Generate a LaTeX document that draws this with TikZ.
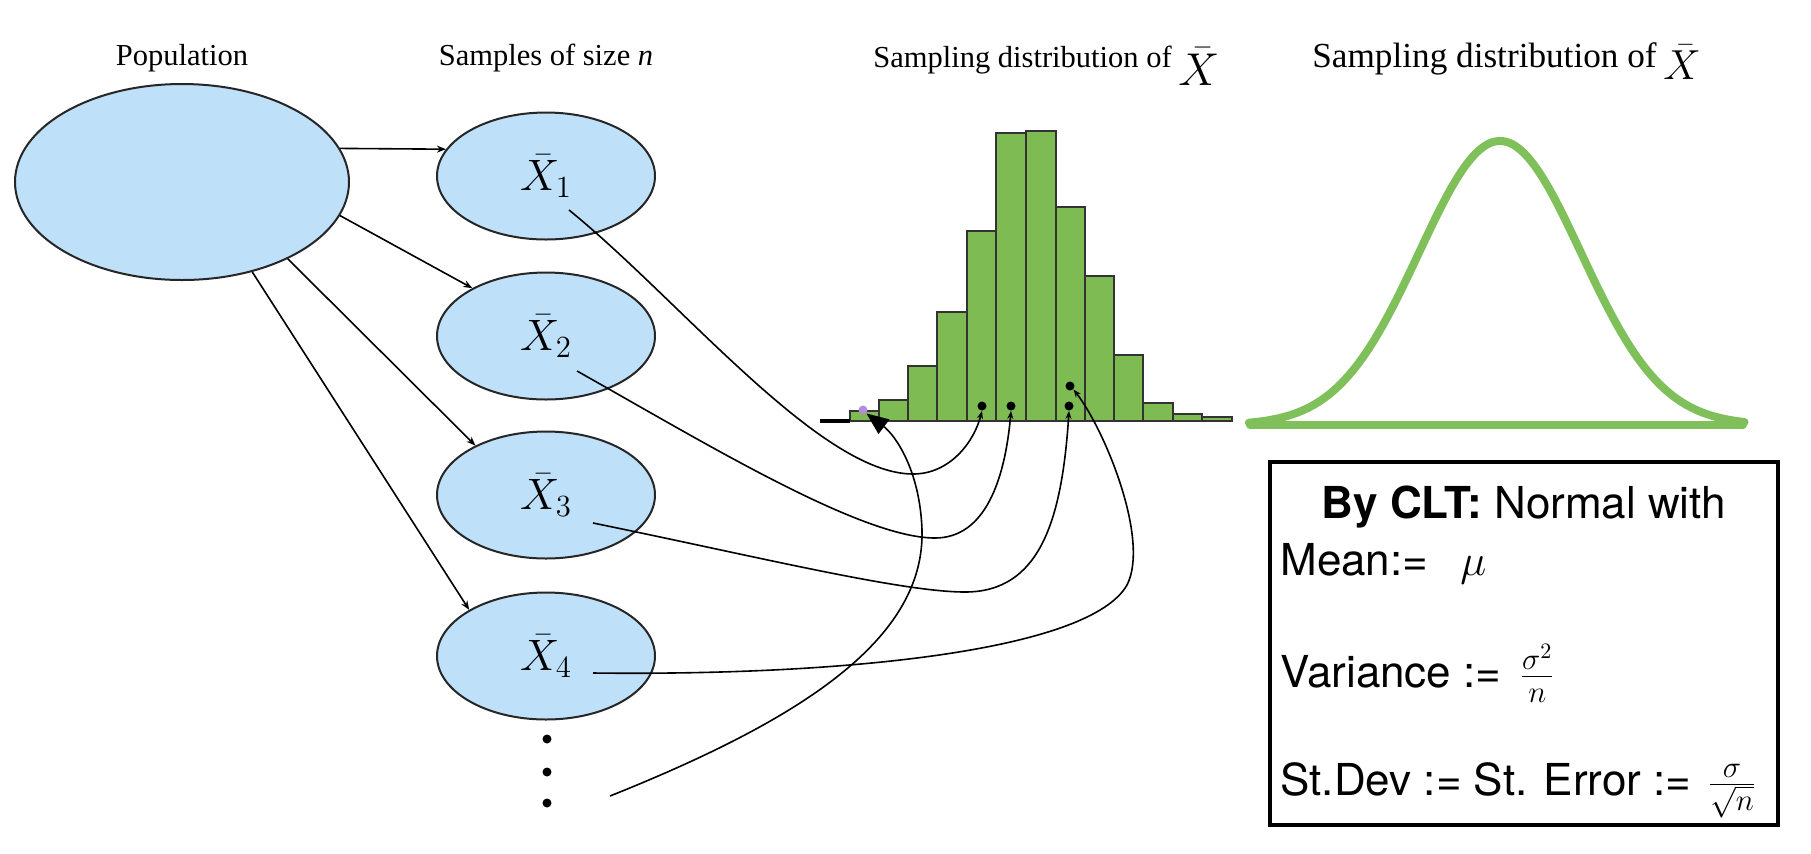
\RequirePackage{fix-cm}
\documentclass[tikz,border=0pt]{standalone}
\usepackage[no-math]{fontspec}
\setmainfont{Liberation Serif}
\newfontfamily\heros{TeX Gyre Heros}
\usetikzlibrary{arrows.meta,shapes.geometric}
\definecolor{popblue}{RGB}{190,224,248}
\definecolor{histgreen}{RGB}{126,187,82}
\definecolor{curvegreen}{RGB}{128,192,90}
\definecolor{dotpurple}{RGB}{180,140,215}
\begin{document}
\begin{tikzpicture}[x=0.5pt,y=-0.5pt,
  blob/.style={ellipse, draw=black!85, line width=1pt, fill=popblue, inner sep=0pt,
    font=\fontsize{22}{26}\selectfont},
  samp/.style={blob, minimum width=109pt, minimum height=63.5pt},
  conn/.style={line width=0.8pt, -{Stealth[length=4.5pt,width=3.5pt]}},
  flow/.style={line width=0.8pt, -{Stealth[length=4pt,width=3pt]}},
  bigflow/.style={line width=0.8pt, -{Triangle[length=11pt,width=9pt]}},
  bar/.style={fill=histgreen, draw=black!80, line width=0.6pt},
  dotnode/.style={circle, fill=black, inner sep=0pt, minimum size=4.5pt},
  title/.style={font=\fontsize{15.25}{18}\selectfont, inner sep=0pt, anchor=base west},
  titlebig/.style={font=\fontsize{17.6}{20}\selectfont, inner sep=0pt, anchor=base west},
  boxtxt/.style={font=\heros\fontsize{22}{26}\selectfont, inner sep=0pt, anchor=base west},
]
\useasboundingbox[fill=white] (0,0) rectangle (1811,853);

% titles
\node[title, anchor=base] (tpop) at (182,65) {Population};
\node[title, anchor=base] (tsamp) at (546,65) {Samples of size \textit{n}};
\node[title] (th) at (873,67) {Sampling distribution of};
\node[font=\fontsize{23}{26}\selectfont, inner sep=0pt, anchor=base west] (thx) at (1178,85) {$\bar{X}$};
\node[titlebig] (tn) at (1312,67) {Sampling distribution of};
\node[font=\fontsize{21}{24}\selectfont, inner sep=0pt, anchor=base west] (tnx) at (1663,79) {$\bar{X}$};

% population and samples
\node[blob, minimum width=167pt, minimum height=98pt] (pop) at (182,182) {};
\node[samp] (x1) at (546,176) {$\bar{X}_1$};
\node[samp] (x2) at (546,336) {$\bar{X}_2$};
\node[samp] (x3) at (546,495) {$\bar{X}_3$};
\node[samp] (x4) at (546,656) {$\bar{X}_4$};
\node[dotnode] (v1) at (547,739) {};
\node[dotnode] (v2) at (547,772) {};
\node[dotnode] (v3) at (547,803) {};

\draw[conn] (pop.12.8) -- (x1.165);
\draw[conn] (pop.-12.8) -- (x2.147);
\draw[conn] (pop.-36.6) -- (x3.145.6);
\draw[conn] (pop.-52.4) -- (x4.149.9);

% histogram
\foreach \a/\b/\t in {850/879/411, 879/908/400, 908/937/366, 937/967/312,
  967/996/231, 996/1026/133, 1026/1056/131, 1056/1085/207, 1085/1114/276,
  1114/1143/355, 1143/1173/403, 1173/1202/414, 1202/1232/417}
  \draw[bar] (\a,421) rectangle (\b,\t);
\draw[line width=1.8pt] (820,421) -- (850,421);
\draw[line width=0.8pt, black!80] (850,421) -- (1232,421);

\node[dotnode] (d1) at (982,406) {};
\node[dotnode] (d2) at (1011,406) {};
\node[dotnode] (d3) at (1069,406) {};
\node[dotnode] (d4) at (1070,386) {};
\node[dotnode, fill=dotpurple] (pp) at (863,410) {};

% flows from sample means to histogram
\coordinate (s1) at (569,210);
\coordinate (s2) at (577,371);
\coordinate (s3) at (593,523);
\coordinate (s4) at (593,673);
\coordinate (s5) at (610,796);
\draw[flow] (s1) .. controls (680,300) and (820,474) .. (913,474)
  .. controls (950,474) and (974,442) .. (d1.south);
\draw[flow] (s2) .. controls (700,440) and (860,538) .. (935,538)
  .. controls (985,538) and (1005,480) .. (d2.south);
\draw[flow] (s3) .. controls (750,555) and (900,592) .. (965,592)
  .. controls (1040,592) and (1062,520) .. (d3.south);
\draw[flow] (s4) .. controls (850,676) and (1090,650) .. (1127,585)
  .. controls (1150,540) and (1105,430) .. (d4.south east);
\draw[bigflow] (s5) .. controls (800,720) and (925,640) .. (922,530)
  .. controls (920,470) and (895,435) .. (pp.south east);

% normal curve
\draw[curvegreen, line width=4pt, line join=round, line cap=round]
  plot[domain=-3.1:3.02, samples=120, smooth] ({1500+81*\x},{425-284*exp(-\x*\x/2)});
\draw[curvegreen, line width=4pt, line cap=round] (1250,425) -- (1743,425);

% CLT box
\node[draw=black, line width=2pt, inner sep=0pt, minimum width=254pt, minimum height=181.5pt] (clt) at (1524,643.5) {};
\node[boxtxt, anchor=base] (l1) at (1524,518) {\textbf{By CLT:} Normal with};
\node[boxtxt] (l2) at (1280,575) {Mean:=\hspace{16pt}$\mu$};
\node[boxtxt] (l3) at (1280,687) {Variance := \hspace{3pt}$\frac{\sigma^2}{n}$};
\node[boxtxt] (l4) at (1280,795) {St.Dev := St. Error := \hspace{2pt}$\frac{\sigma}{\sqrt{n}}$};
\end{tikzpicture}
\end{document}
